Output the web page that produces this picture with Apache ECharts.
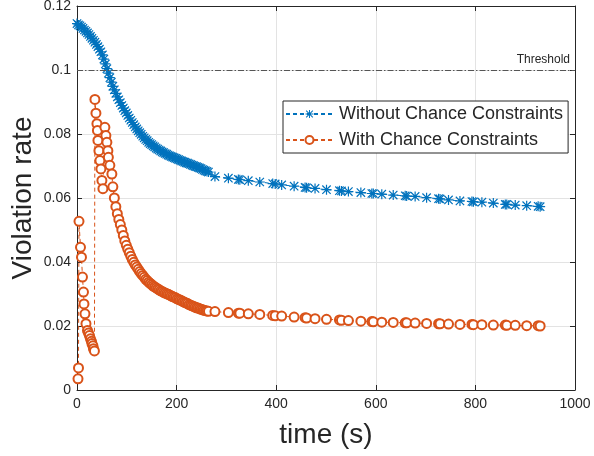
<!DOCTYPE html>
<html>
<head>
<meta charset="utf-8">
<script src="https://cdn.jsdelivr.net/npm/echarts@6/dist/echarts.min.js"></script>
<style>
  html, body { margin: 0; padding: 0; background: #fff; }
  #main { width: 594px; height: 456px; }
</style>
</head>
<body>
<div id="main"></div>
<script>
// dense part of "without" curve, one reading every 3 s
var blueDenseT = [0, 3, 6, 9, 12, 15, 18, 21, 24, 27, 30, 33, 36, 39, 42, 45, 48, 51, 54, 57,
  60, 63, 66, 69, 72, 75, 78, 81, 84, 87, 90, 93, 96, 99, 102, 105, 108, 111, 114, 117,
  120, 123, 126, 129, 132, 135, 138, 141, 144, 147, 150, 153, 156, 159, 162, 165, 168, 171, 174, 177,
  180, 183, 186, 189, 192, 195, 198, 201, 204, 207, 210, 213, 216, 219, 222, 225, 228, 231, 234, 237,
  240, 243, 246, 249, 252, 255, 258, 261, 264];
var blueDenseV = [0.1145, 0.1141, 0.1138, 0.1134, 0.1130, 0.1125, 0.1121, 0.1116, 0.1111, 0.1105,
  0.1099, 0.1093, 0.1087, 0.1080, 0.1073, 0.1065, 0.1057, 0.1047, 0.1034, 0.1019,
  0.1004, 0.0990, 0.0976, 0.0962, 0.0949, 0.0938, 0.0927, 0.0916, 0.0907, 0.0898,
  0.0889, 0.0881, 0.0873, 0.0866, 0.0858, 0.0850, 0.0843, 0.0836, 0.0829, 0.0822,
  0.0816, 0.0810, 0.0804, 0.0799, 0.0793, 0.0788, 0.0783, 0.0779, 0.0774, 0.0770,
  0.0767, 0.0763, 0.0760, 0.0756, 0.0753, 0.0750, 0.0747, 0.0744, 0.0742, 0.0739,
  0.0737, 0.0734, 0.0732, 0.0730, 0.0728, 0.0726, 0.0724, 0.0722, 0.0720, 0.0718,
  0.0716, 0.0714, 0.0712, 0.0710, 0.0709, 0.0707, 0.0705, 0.0703, 0.0701, 0.0699,
  0.0698, 0.0696, 0.0694, 0.0692, 0.0689, 0.0687, 0.0685, 0.0683, 0.0681];

// early part of "with" curve (drop, jump, noisy cluster)
var orangeEarlyT = [2, 3, 4, 7, 9, 11, 13, 14, 16, 18, 21, 23, 25, 27, 29, 30, 32, 33, 35,
  36, 38, 40, 41, 42, 44, 46, 48, 50, 52, 56, 58, 60, 62, 63, 66, 70];
var orangeEarlyV = [0.0035, 0.0069, 0.0527, 0.0446, 0.0415, 0.0353, 0.0306, 0.0269, 0.0238, 0.0207,
  0.0186, 0.0178, 0.0170, 0.0160, 0.0152, 0.0145, 0.0138, 0.0129, 0.0122,
  0.0908, 0.0865, 0.0832, 0.0811, 0.0780, 0.0748, 0.0717, 0.0691, 0.0655, 0.0629,
  0.0821, 0.0795, 0.0774, 0.0748, 0.0727, 0.0702, 0.0675];

// smooth decay of "with" curve, one reading every 3 s
var orangeCurveT = [72, 75, 78, 81, 84, 87, 90, 93, 96, 99, 102, 105, 108, 111, 114, 117, 120, 123,
  126, 129, 132, 135, 138, 141, 144, 147, 150, 153, 156, 159, 162, 165, 168, 171, 174, 177, 180, 183,
  186, 189, 192, 195, 198, 201, 204, 207, 210, 213, 216, 219, 222, 225, 228, 231, 234, 237, 240, 243,
  246, 249, 252, 255, 258, 261, 264];
var orangeCurveV = [0.0635, 0.0600, 0.0573, 0.0551, 0.0533, 0.0517, 0.0500, 0.0483, 0.0466, 0.0452,
  0.0440, 0.0429, 0.0418, 0.0408, 0.0399, 0.0391, 0.0384, 0.0377, 0.0370, 0.0364,
  0.0358, 0.0352, 0.0346, 0.0342, 0.0337, 0.0333, 0.0329, 0.0325, 0.0322, 0.0319,
  0.0316, 0.0313, 0.0310, 0.0308, 0.0305, 0.0303, 0.0301, 0.0299, 0.0297, 0.0294,
  0.0292, 0.0290, 0.0288, 0.0285, 0.0283, 0.0281, 0.0279, 0.0276, 0.0274, 0.0272,
  0.0270, 0.0267, 0.0265, 0.0263, 0.0261, 0.0259, 0.0257, 0.0256, 0.0254, 0.0252,
  0.0251, 0.0249, 0.0248, 0.0247, 0.0246];

// sparse tail, same times for both
var sparseT = [277, 304, 324, 327, 344, 367, 393, 398, 411, 436, 458, 461, 478, 501, 527, 531, 545,
  570, 592, 595, 612, 635, 659, 662, 679, 702, 726, 729, 746, 769, 793, 796, 813, 836, 860, 863,
  880, 903, 926, 930];
var blueSparseV = [0.0667, 0.0662, 0.0658, 0.0657, 0.0654, 0.0650, 0.0645, 0.0644, 0.0641, 0.0637,
  0.0633, 0.0632, 0.0630, 0.0626, 0.0623, 0.0622, 0.0620, 0.0617, 0.0614, 0.0614, 0.0612, 0.0609,
  0.0607, 0.0606, 0.0605, 0.0601, 0.0598, 0.0597, 0.0594, 0.0591, 0.0589, 0.0588, 0.0587, 0.0584,
  0.0580, 0.0580, 0.0578, 0.0576, 0.0574, 0.0573];
var orangeSparseV = [0.0245, 0.0242, 0.0240, 0.0240, 0.0238, 0.0236, 0.0233, 0.0232, 0.0231, 0.0228,
  0.0226, 0.0225, 0.0223, 0.0221, 0.0219, 0.0218, 0.0217, 0.0215, 0.0214, 0.0213, 0.0212, 0.0211,
  0.0210, 0.0210, 0.0209, 0.0208, 0.0207, 0.0207, 0.0206, 0.0205, 0.0205, 0.0204, 0.0204, 0.0203,
  0.0203, 0.0202, 0.0202, 0.0201, 0.0201, 0.0200];

var threshold = 0.1;
var seriesNames = ['Without Chance Constraints', 'With Chance Constraints'];

function pairs(ts, vs) {
  return ts.map(function (t, i) { return [t, vs[i]]; });
}
var blueData = pairs(blueDenseT, blueDenseV).concat(pairs(sparseT, blueSparseV));
var orangeData = pairs(orangeEarlyT, orangeEarlyV)
  .concat(pairs(orangeCurveT, orangeCurveV))
  .concat(pairs(sparseT, orangeSparseV));

// matlab-like asterisk: + and x
var star = 'path://M8.8 0H11.2V20H8.8Z M0 8.8H20V11.2H0Z M2.5 0.8L19.2 17.5L17.5 19.2L0.8 2.5Z M17.5 0.8L19.2 2.5L2.5 19.2L0.8 17.5Z';

var textColor = '#262626';
var font = 'Liberation Sans, Arial, Helvetica, sans-serif';

var chart = echarts.init(document.getElementById('main'));
chart.setOption({
  animation: false,
  backgroundColor: '#fff',
  grid: { left: 77, right: 19, top: 6, bottom: 66, containLabel: false, outerBoundsMode: 'none' },
  legend: {
    orient: 'vertical',
    left: 283,
    top: 101,
    data: seriesNames,
    itemWidth: 47,
    itemHeight: 10,
    itemGap: 4,
    padding: [2, 5, 2, 2],
    borderColor: textColor,
    borderWidth: 1,
    backgroundColor: '#fff',
    textStyle: { fontSize: 18, lineHeight: 22, color: textColor, fontFamily: font, padding: [0, 0, 0, 1] }
  },
  xAxis: [{
    type: 'value',
    min: 0, max: 1000, interval: 200,
    name: 'time (s)',
    nameLocation: 'middle',
    nameGap: 31,
    nameMoveOverlap: false,
    nameTextStyle: { fontSize: 28, color: textColor, fontFamily: font },
    axisLine: { lineStyle: { color: textColor, width: 1 } },
    axisTick: { inside: true, length: 5, lineStyle: { color: textColor } },
    axisLabel: { fontSize: 14, color: textColor, fontFamily: font, margin: 7,
      formatter: function (v) { return String(v); } },
    splitLine: { show: true, lineStyle: { color: '#e3e3e3', width: 1 } }
  }, {
    type: 'value', position: 'top',
    min: 0, max: 1000, interval: 200,
    axisLine: { onZero: false, lineStyle: { color: textColor, width: 1 } },
    axisTick: { inside: true, length: 5, lineStyle: { color: textColor } },
    axisLabel: { show: false },
    splitLine: { show: false }
  }],
  yAxis: [{
    type: 'value',
    min: 0, max: 0.12, interval: 0.02,
    name: 'Violation rate',
    nameLocation: 'middle',
    nameGap: 40,
    nameMoveOverlap: false,
    nameTextStyle: { fontSize: 28, color: textColor, fontFamily: font },
    axisLine: { show: true, lineStyle: { color: textColor, width: 1 } },
    axisTick: { show: true, inside: true, length: 5, lineStyle: { color: textColor } },
    axisLabel: { fontSize: 14, color: textColor, fontFamily: font, margin: 6 },
    splitLine: { show: true, lineStyle: { color: '#e3e3e3', width: 1 } }
  }, {
    type: 'value', position: 'right',
    min: 0, max: 0.12, interval: 0.02,
    axisLine: { show: true, onZero: false, lineStyle: { color: textColor, width: 1 } },
    axisTick: { show: true, inside: true, length: 5, lineStyle: { color: textColor } },
    axisLabel: { show: false },
    splitLine: { show: false }
  }],
  series: [{
    name: seriesNames[0],
    type: 'line',
    data: blueData,
    symbol: star,
    symbolSize: 10,
    itemStyle: { color: '#0072BD', borderWidth: 0 },
    lineStyle: { color: '#0072BD', width: 1, type: [4, 3] },
    z: 3,
    markLine: {
      silent: true,
      symbol: 'none',
      data: [{ yAxis: threshold }],
      lineStyle: { color: '#555', width: 1, type: [6, 2, 1.5, 2] },
      label: {
        show: true,
        position: 'insideEndTop',
        formatter: 'Threshold',
        fontSize: 12,
        color: textColor,
        fontFamily: font,
        distance: [5, 4]
      }
    }
  }, {
    name: seriesNames[1],
    type: 'line',
    data: orangeData,
    symbol: 'emptyCircle',
    symbolSize: 9,
    itemStyle: { color: '#D95319', borderWidth: 0.6 },
    lineStyle: { color: '#D95319', width: 1, type: [4, 3] },
    z: 2
  }]
});
</script>
</body>
</html>
